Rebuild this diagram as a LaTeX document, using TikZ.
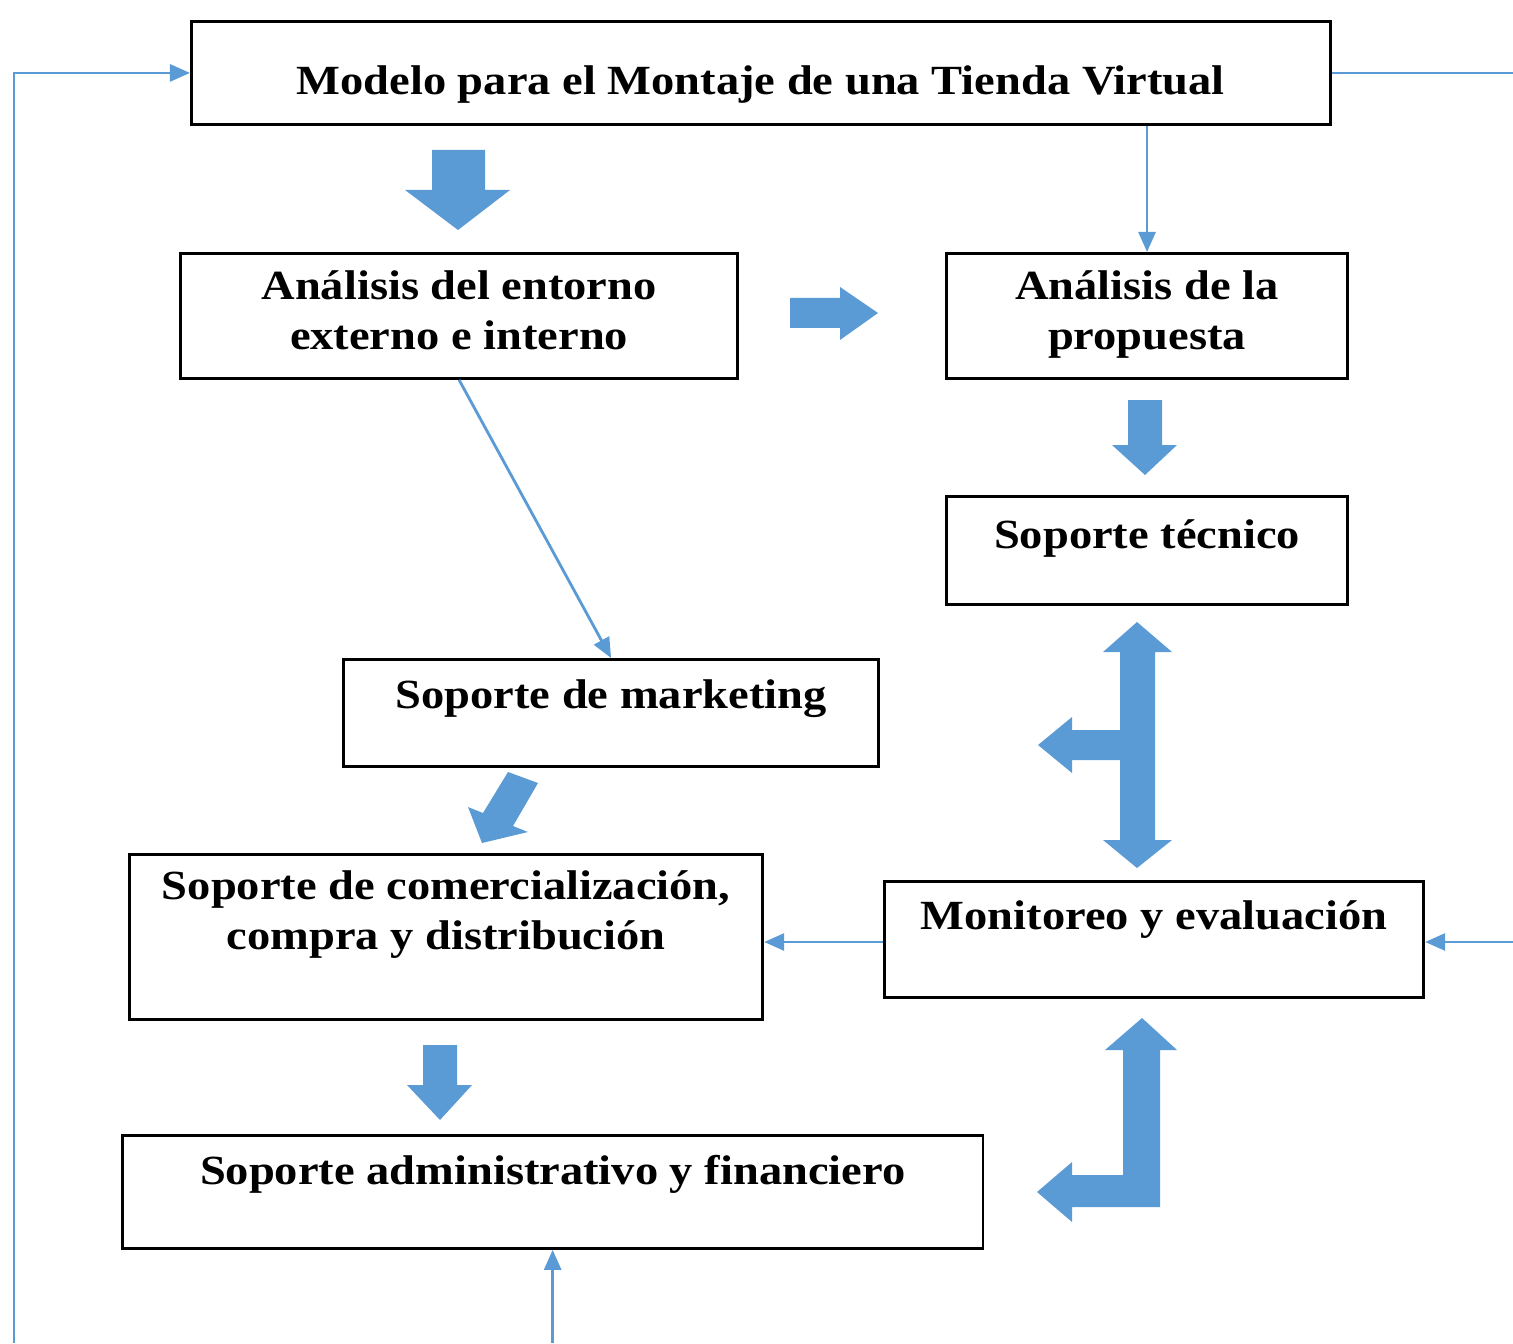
\documentclass[tikz,border=0pt]{standalone}
\usepackage{fontspec}
\setmainfont[FakeStretch=1.12]{Liberation Serif}
\usepackage{tikz}
\usetikzlibrary{arrows.meta}
\definecolor{arrowblue}{HTML}{5B9BD5}
\tikzset{%
  stepbox/.style={
    draw,
    thick,
    inner sep=0pt,
    anchor=north west,
    align=center,
    font=\fontsize{11.8}{12.5}\selectfont\bfseries
  },
  link/.style={
    draw=arrowblue,
    line width=0.8pt
  },
  blockarrow/.style={
    fill=arrowblue,
    draw=none
  },
}

\begin{document}
\begin{tikzpicture}[> = {Triangle[length=0.2cm,width=0.17cm]}, x=0.01cm, y=-0.01cm]
\useasboundingbox (0,0) rectangle (1513,1343);

    \node[stepbox, minimum width=11.38cm, text height=0.73cm, text depth=0.30cm] (modelo) at (190,20) {Modelo para el Montaje de una Tienda Virtual};
    \node[stepbox, minimum width=5.57cm, text height=0.96cm, text depth=0.29cm] (entorno) at (179,252) {Análisis del entorno\\[1.7pt]externo e interno};
    \node[stepbox, minimum width=4.01cm, text height=0.96cm, text depth=0.29cm] (propuesta) at (945,252) {Análisis de la\\[1.7pt]propuesta};
    \node[stepbox, minimum width=4.01cm, text height=0.52cm, text depth=0.56cm] (tecnico) at (945,495) {Soporte técnico};
    \node[stepbox, minimum width=5.35cm, text height=0.49cm, text depth=0.58cm] (marketing) at (342,658) {Soporte de marketing};
    \node[stepbox, minimum width=6.33cm, text height=0.95cm, text depth=0.70cm] (comercial) at (128,853) {Soporte de comercialización,\\[1.7pt]compra y distribución};
    \node[stepbox, minimum width=5.39cm, text height=0.48cm, text depth=0.68cm] (monitoreo) at (883,880) {Monitoreo y evaluación};
    \node[stepbox, minimum width=8.60cm, text height=0.49cm, text depth=0.64cm] (admin) at (121,1134) {Soporte administrativo y financiero};

    \coordinate (fbLeft) at (14,1343);
    \coordinate (fbRight) at (1513,72);
    \coordinate (inRight) at (1513,942);
    \coordinate (inBottom) at (551,1343);

    \draw[link, ->] (fbLeft) |- (modelo.west);
    \draw[link] (modelo.east) -- (modelo.east -| fbRight);
    \draw[link, ->] (propuesta.north |- modelo.south) -- (propuesta.north);
    \draw[link, ->] (entorno.south) -- (marketing.north);
    \draw[link, ->] (inRight) -- (inRight -| monitoreo.east);
    \draw[link, ->] (monitoreo.west |- inRight) -- (comercial.east |- inRight);
    \draw[link, ->] (admin.south |- inBottom) -- (admin.south);

    \fill[blockarrow] (432,150) -- (485,150) -- (485,190) -- (510,190) -- (458,230) -- (405,190) -- (432,190) -- cycle;
    \fill[blockarrow] (790,298) -- (840,298) -- (840,287) -- (878,313) -- (840,340) -- (840,328) -- (790,328) -- cycle;
    \fill[blockarrow] (1128,400) -- (1162,400) -- (1162,445) -- (1177,445) -- (1145,475) -- (1112,445) -- (1128,445) -- cycle;
    \fill[blockarrow] (1137,622) -- (1172,652) -- (1155,652) -- (1155,840) -- (1172,840) -- (1137,868) -- (1103,840) -- (1120,840)
        -- (1120,760) -- (1072,760) -- (1072,773) -- (1038,745) -- (1072,717) -- (1072,730) -- (1120,730) -- (1120,652) -- (1103,652) -- cycle;
    \fill[blockarrow] (508,772) -- (538,783) -- (513,826) -- (528,832) -- (482,843) -- (468,807) -- (483,813) -- cycle;
    \fill[blockarrow] (423,1045) -- (457,1045) -- (457,1085) -- (472,1085) -- (440,1120) -- (407,1085) -- (423,1085) -- cycle;
    \fill[blockarrow] (1142,1018) -- (1177,1050) -- (1160,1050) -- (1160,1207) -- (1072,1207) -- (1072,1222) -- (1037,1192)
        -- (1072,1162) -- (1072,1175) -- (1123,1175) -- (1123,1050) -- (1105,1050) -- cycle;
\end{tikzpicture}
\end{document}
